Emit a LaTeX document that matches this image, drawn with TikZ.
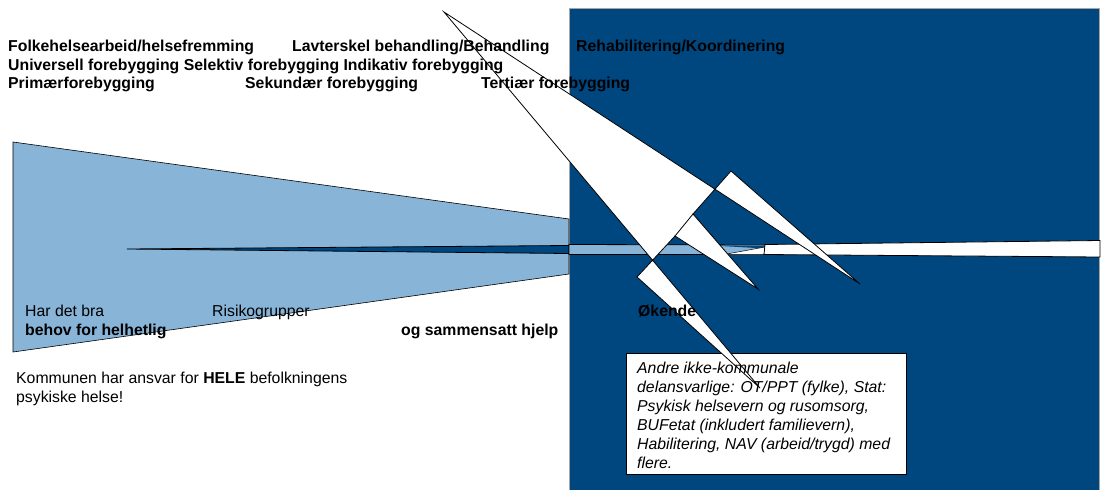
\documentclass[tikz,border=0pt]{standalone}
\usepackage{fontspec}
\setmainfont{Liberation Sans}
\definecolor{darkblue}{RGB}{0,70,127}
\definecolor{lightblue}{RGB}{136,180,216}
\tikzset{
  lbl/.style={anchor=base west, inner sep=0pt, font=\fontsize{15.8}{19}\selectfont},
  hdr/.style={lbl, font=\fontsize{15.8}{19}\selectfont\bfseries},
  boxtxt/.style={lbl, font=\fontsize{15.8}{19}\selectfont\itshape},
  edge/.style={line width=0.8pt, line join=miter},
}
\begin{document}
\begin{tikzpicture}[x=1pt, y=-1pt]
    \useasboundingbox (0,0) rectangle (1101,490);
    % panels
    \draw[fill=darkblue, draw=gray!70, line width=0.6pt] (569,8) rectangle (1099,490);
    \draw[fill=lightblue, edge, line width=0.6pt] (13,142) -- (569,219) -- (569,274) -- (13,352) -- cycle;
    % arrow band
    \draw[fill=darkblue, edge] (127,249) -- (569,245.5) -- (569,253.5) -- cycle;
    \draw[fill=lightblue, edge] (569,244.5) -- (765,245) -- (764,254.5) -- (569,254.5) -- cycle;
    \fill[darkblue] (712,245.5) -- (765,246) -- (765,248.5) -- cycle;
    \draw[fill=white, edge, line width=0.5pt] (724,254.5) -- (765,247) -- (764,254.5) -- cycle;
    \draw[fill=white, edge] (765,244.5) -- (1100,240.5) -- (1100,257) -- (764,254.5) -- cycle;
    % text box
    \node[draw, fill=white, line width=0.8pt, anchor=north west, inner sep=0pt,
          minimum width=280pt, minimum height=121pt] (box) at (626,353) {};
    % callout spikes
    \draw[fill=white, even odd rule, edge] (444,12) -- (860,284) -- (731,171) -- (693,214)
        -- (758,289) -- (675,236) -- (637,277) -- (760,388) -- cycle;
    \draw[edge] (693,214) -- (675,236);
    % headings
    \node[hdr] (folk) at (8,51.5) {Folkehelsearbeid/helsefremming};
    \node[hdr] (lavterskel) at (292,51.5) {Lavterskel behandling/Behandling};
    \node[hdr] (rehab) at (576,51.5) {Rehabilitering/Koordinering};
    \node[hdr] (forebygging) at (8,70) {Universell forebygging Selektiv forebygging Indikativ forebygging};
    \node[hdr] (primaer) at (8,88.5) {Primærforebygging};
    \node[hdr] (sekundaer) at (245,88.5) {Sekundær forebygging};
    \node[hdr] (tertiaer) at (481,88.5) {Tertiær forebygging};
    % labels under the wedge
    \node[lbl] (bra) at (25,316) {Har det bra};
    \node[hdr] (behov) at (25,335) {behov for helhetlig};
    \node[lbl] (risiko) at (212,316) {Risikogrupper};
    \node[hdr] (sammensatt) at (401,335) {og sammensatt hjelp};
    \node[hdr] (okende) at (638,316) {Økende};
    \node[lbl] (ansvar) at (16,383) {Kommunen har ansvar for \textbf{HELE} befolkningens};
    \node[lbl] (helse) at (16,402) {psykiske helse!};
    % box text
    \node[boxtxt] (andre) at (637,373) {Andre ikke-kommunale};
    \node[boxtxt] (delansvar) at (637,392) {delansvarlige: OT/PPT (fylke), Stat:};
    \node[boxtxt] (psykisk) at (637,411) {Psykisk helsevern og rusomsorg,};
    \node[boxtxt] (bufetat) at (637,430) {BUFetat (inkludert familievern),};
    \node[boxtxt] (habil) at (637,449) {Habilitering, NAV (arbeid/trygd) med};
    \node[boxtxt] (flere) at (637,468) {flere.};
\end{tikzpicture}
\end{document}
